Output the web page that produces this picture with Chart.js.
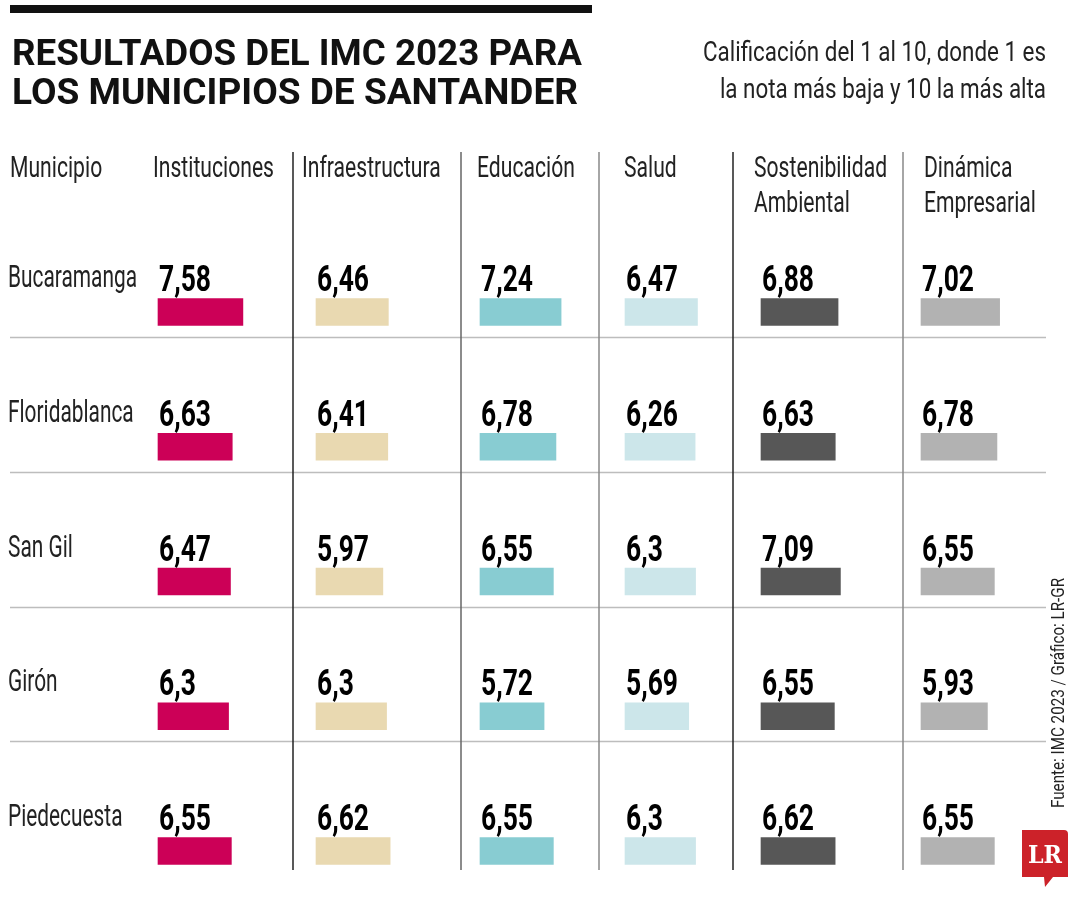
<!DOCTYPE html>
<html>
<head>
<meta charset="utf-8">
<script src="https://cdn.jsdelivr.net/npm/chart.js@4"></script>
<style>
  html, body { margin: 0; padding: 0; background: #fff; }
  #chart1 { display: block; }
</style>
</head>
<body>
<canvas id="chart1" width="1080" height="900"></canvas>
<script>
// data
const municipios      = ['Bucaramanga', 'Floridablanca', 'San Gil', 'Girón', 'Piedecuesta']
const indicadores     = [['Instituciones'], ['Infraestructura'], ['Educación'], ['Salud'],
                         ['Sostenibilidad', 'Ambiental'], ['Dinámica', 'Empresarial']]
const instituciones   = [7.58, 6.63, 6.47, 6.3, 6.55]
const infraestructura = [6.46, 6.41, 5.97, 6.3, 6.62]
const educacion       = [7.24, 6.78, 6.55, 5.72, 6.55]
const salud           = [6.47, 6.26, 6.3, 5.69, 6.3]
const sostenibilidad  = [6.88, 6.63, 7.09, 6.55, 6.62]
const dinamica        = [7.02, 6.78, 6.55, 5.93, 6.55]

const titulo    = ['RESULTADOS DEL IMC 2023 PARA', 'LOS MUNICIPIOS DE SANTANDER']
const subtitulo = ['Calificación del 1 al 10, donde 1 es', 'la nota más baja y 10 la más alta']
const fuente    = 'Fuente: IMC 2023 / Gráfico: LR-GR'

// layout
const series   = [instituciones, infraestructura, educacion, salud, sostenibilidad, dinamica]
const colors   = ['#cc0057', '#e9d9b1', '#88ccd2', '#cce6ea', '#575757', '#b2b2b2']
const barStart = [158, 316, 480, 625, 761, 921]   // left edge of each column's bars (px on x scale)
const headX    = [153, 302, 477, 624, 754, 924]
const vLines   = [[293, '#222'], [461, '#666'], [599, '#888'], [733, '#222'], [903, '#888']]
const PX_PER_POINT = 11.2

// draws text squeezed horizontally, like a condensed face
function condText(ctx, txt, x, y, font, k, align) {
  ctx.save()
  ctx.font = font
  const w = ctx.measureText(txt).width * k
  ctx.translate(align === 'right' ? x - w : x, y)
  ctx.scale(k, 1)
  ctx.textAlign = 'left'
  ctx.fillText(txt, 0, 0)
  ctx.restore()
}
function factor(ctx, txt, font, target) {
  ctx.font = font
  return target / ctx.measureText(txt).width
}

const LIGHT = '30px Roboto'
const NAME  = '31px Roboto'
const BOLD  = 'bold 36px Roboto'

const tablePlugin = {
  id: 'tabla',
  beforeDraw(chart) {
    const ctx = chart.ctx
    ctx.save()
    ctx.fillStyle = '#fff'
    ctx.fillRect(0, 0, chart.width, chart.height)

    // top rule
    ctx.fillStyle = '#111'
    ctx.fillRect(10, 5, 582, 8)

    // row separators
    const y = chart.scales.y
    ctx.strokeStyle = '#bdbdbd'
    ctx.lineWidth = 1.5
    for (let i = 0; i < municipios.length - 1; i++) {
      const yy = Math.round(y.getPixelForValue(i) + 25) + 0.5
      ctx.beginPath(); ctx.moveTo(10, yy); ctx.lineTo(1046, yy); ctx.stroke()
    }
    // column separators
    vLines.forEach(function(l) {
      ctx.strokeStyle = l[1]
      ctx.beginPath(); ctx.moveTo(l[0], 152); ctx.lineTo(l[0], 870); ctx.stroke()
    })
    ctx.restore()
  },
  afterDatasetsDraw(chart) {
    const ctx = chart.ctx
    const y = chart.scales.y
    ctx.save()
    ctx.fillStyle = '#111'
    ctx.textBaseline = 'alphabetic'

    // title
    titulo.forEach(function(t, i) {
      const k = factor(ctx, t, 'bold 37px Roboto', i === 0 ? 570 : 566)
      condText(ctx, t, 12, 65 + i * 39, 'bold 37px Roboto', k)
    })
    // subtitle
    ctx.fillStyle = '#222'
    const subFont = '28px Roboto'
    const kSub = factor(ctx, subtitulo[0], subFont, 343)
    subtitulo.forEach(function(t, i) {
      condText(ctx, t, 1046, 61 + i * 37, subFont, kSub, 'right')
    })

    // headers
    const kL = factor(ctx, 'Instituciones', LIGHT, 121)
    condText(ctx, 'Municipio', 10, 177, LIGHT, kL)
    indicadores.forEach(function(lines, c) {
      lines.forEach(function(t, j) {
        condText(ctx, t, headX[c], 177 + j * 35, LIGHT, kL)
      })
    })

    // municipality names
    const kN = factor(ctx, 'Bucaramanga', NAME, 129)
    municipios.forEach(function(m, i) {
      condText(ctx, m, 8, y.getPixelForValue(i) - 25, NAME, kN)
    })

    // value labels above each bar
    ctx.fillStyle = '#000'
    const kB = factor(ctx, '7,58', BOLD, 52)
    chart.data.datasets.forEach(function(ds, d) {
      chart.getDatasetMeta(d).data.forEach(function(bar, i) {
        const txt = String(series[d][i]).replace('.', ',')
        condText(ctx, txt, bar.base + 1, bar.y - 21, BOLD, kB)
      })
    })

    // source, rotated
    ctx.fillStyle = '#222'
    ctx.save()
    ctx.translate(1064, 808)
    ctx.rotate(-Math.PI / 2)
    const kF = factor(ctx, fuente, '19px Roboto', 230)
    condText(ctx, fuente, 0, 0, '19px Roboto', kF)
    ctx.restore()

    // LR logo
    ctx.fillStyle = '#cc2229'
    ctx.beginPath()
    ctx.moveTo(1022, 830)
    ctx.lineTo(1064, 830)
    ctx.quadraticCurveTo(1068, 830, 1068, 834)
    ctx.lineTo(1068, 877)
    ctx.lineTo(1053, 877)
    ctx.lineTo(1045, 887)
    ctx.lineTo(1044, 877)
    ctx.lineTo(1022, 877)
    ctx.closePath()
    ctx.fill()
    ctx.fillStyle = '#fff'
    const kLR = factor(ctx, 'LR', 'bold 25px "DejaVu Serif"', 34)
    condText(ctx, 'LR', 1045 - 17, 863, 'bold 25px "DejaVu Serif"', kLR)
    ctx.restore()
  }
}

const datasets = series.map(function(vals, c) {
  return {
    label: indicadores[c].join(' '),
    data: vals.map(function(v) { return [barStart[c], barStart[c] + v * PX_PER_POINT] }),
    backgroundColor: colors[c],
    borderWidth: 0,
    barThickness: 27,
    grouped: false,
    clip: false
  }
})

const myChart = new Chart(document.getElementById('chart1').getContext('2d'), {
  type: 'bar',
  data: { labels: municipios, datasets: datasets },
  options: {
    indexAxis: 'y',
    responsive: false,
    animation: false,
    layout: { padding: { top: 312, bottom: 49, left: 0, right: 0 } },
    scales: {
      x: { type: 'linear', min: 0, max: 1080, display: false },
      y: { type: 'category', offset: false, display: false }
    },
    plugins: { legend: { display: false }, tooltip: { enabled: false } }
  },
  plugins: [tablePlugin]
})
</script>
</body>
</html>
